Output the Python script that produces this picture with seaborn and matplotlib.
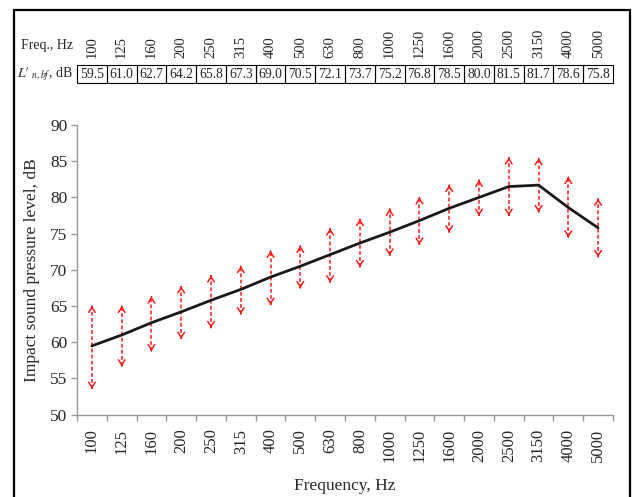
#impact sound pressure level vs frequency, with table of values on top

import pandas as pd
import seaborn as sns
import numpy as np
import matplotlib.pyplot as plt
import matplotlib.patches as mpatches
from matplotlib.transforms import blended_transform_factory
from matplotlib.ticker import FixedLocator

freqs=["100","125","160","200","250","315","400","500","630","800","1000","1250","1600","2000","2500","3150","4000","5000"]
level=[59.5,61.0,62.7,64.2,65.8,67.3,69.0,70.5,72.1,73.7,75.2,76.8,78.5,80.0,81.5,81.7,78.6,75.8]
#ends of the red dashed arrows
arrow_top=[65.0,65.0,66.3,67.7,69.2,70.5,72.6,73.3,75.7,77.0,78.4,80.0,81.7,82.4,85.5,85.4,82.8,79.8]
arrow_bottom=[53.6,56.7,58.8,60.5,62.0,63.9,65.2,67.5,68.3,70.4,72.0,73.5,75.2,77.5,77.5,78.0,74.5,71.8]
yticks=[50,55,60,65,70,75,80,85,90]

sns.set_theme(style="white")
plt.rcParams['font.family']=['Liberation Serif','DejaVu Serif']
plt.rcParams['mathtext.fontset']='stix'

df=pd.DataFrame({"Frequency":freqs,"Level":level,"pos":np.arange(len(freqs))})

W,H=633,497
fig=plt.figure(figsize=(W/100,H/100),dpi=100)
ax=fig.add_axes([77/W,1-414.7/H,(613-77)/W,(414.7-125)/H])

#red double arrows
for i in range(len(freqs)):
	ax.vlines(i,arrow_bottom[i],arrow_top[i],colors="#ff1a1a",linestyles=(0,(2.5,1.5)),lw=1.1,zorder=2)
	for yend,ystart in [(arrow_top[i],arrow_top[i]-0.05),(arrow_bottom[i],arrow_bottom[i]+0.05)]:
		ax.annotate("",xy=(i,yend),xytext=(i,ystart),
			arrowprops=dict(arrowstyle="->,head_length=0.3,head_width=0.2",color="#ff1a1a",lw=1.1,shrinkA=0,shrinkB=0),zorder=2)

sns.lineplot(data=df,x="pos",y="Level",color="#1a1a1a",lw=2.0,ax=ax,zorder=3)

ax.set_xlim(-0.5,len(freqs)-0.5)
ax.set_ylim(50,90)
ax.set_yticks(yticks)
ax.set_xticks(np.arange(len(freqs)))
ax.set_xticklabels(freqs,rotation=90,fontsize=12)
ax.xaxis.set_minor_locator(FixedLocator(np.arange(-0.5,len(freqs),1)))
ax.tick_params(axis="x",which="major",length=0,pad=10)
ax.tick_params(axis="x",which="minor",length=4,color="#999999",width=1,direction="out",bottom=True)
ax.tick_params(axis="y",length=4,color="#999999",width=1,direction="out",left=True,labelsize=12.5,pad=3)
for s in ["top","right"]:
	ax.spines[s].set_visible(False)
for s in ["left","bottom"]:
	ax.spines[s].set_color("#999999")
	ax.spines[s].set_linewidth(1)

ax.set_xlabel("Frequency, Hz",fontsize=12.5)
ax.xaxis.set_label_coords(0.5,-(478-414.7)/(414.7-125))
ax.set_ylabel("Impact sound pressure level, dB",fontsize=12.5)
ax.yaxis.set_label_coords(-(77-40)/(613-77),0.5)

#table above the plot, cells aligned with the categories
trans=blended_transform_factory(ax.transData,fig.transFigure)
cell_top=1-65/H
cell_bot=1-83/H
for i,f in enumerate(freqs):
	ax.text(i,1-58/H,f,transform=trans,rotation=90,ha="center",va="bottom",fontsize=10.5,clip_on=False)
	ax.add_patch(mpatches.Rectangle((i-0.5,cell_bot),1,cell_top-cell_bot,transform=trans,fill=False,
		edgecolor="black",lw=0.8,clip_on=False))
	ax.text(i,(cell_top+cell_bot)/2,"%.1f"%level[i],transform=trans,ha="center",va="center",fontsize=9.8,clip_on=False)

fig.text(21/W,1-46/H,"Freq., Hz",ha="left",va="center",fontsize=10)
fig.text(73/W,1-74/H,r"$L{\prime}_{\ n,bf}$, dB",ha="right",va="center",fontsize=10)

#frame around the figure (open at the bottom)
fig.patches.append(mpatches.Rectangle((14/W,-0.1),(630-14)/W,1.1-10/H,transform=fig.transFigure,
	fill=False,edgecolor="black",lw=1.6))

plt.savefig("out.png",dpi=100)
